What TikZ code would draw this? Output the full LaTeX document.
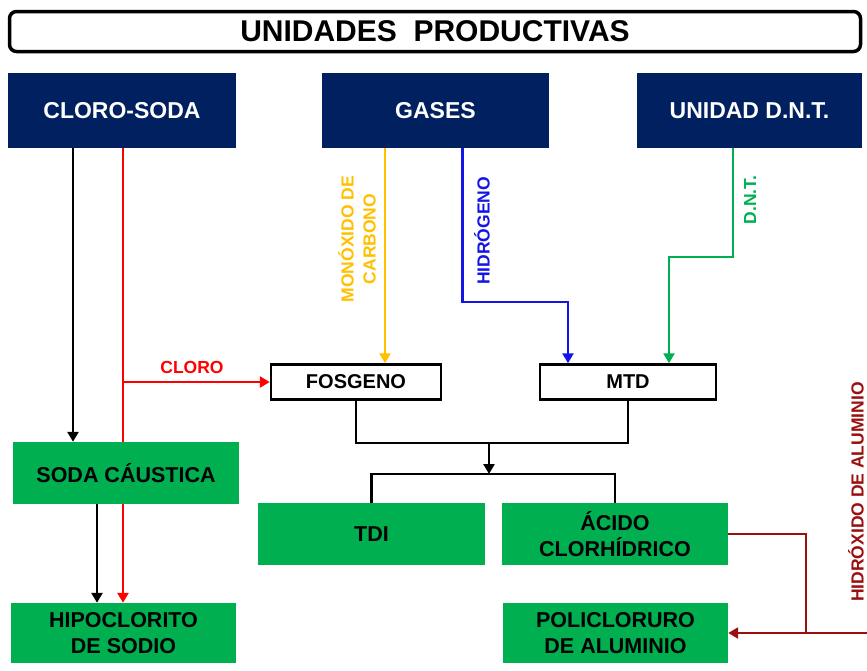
\documentclass[tikz,border=0pt]{standalone}
\usepackage{fontspec}
\setmainfont{Liberation Sans}
\usetikzlibrary{arrows.meta,backgrounds}
\definecolor{navy}{HTML}{002060}
\definecolor{pgreen}{HTML}{00B050}
\definecolor{pred}{HTML}{FF0000}
\definecolor{pyellow}{HTML}{FFC000}
\definecolor{pblue}{HTML}{1414E6}
\definecolor{pdred}{HTML}{9A0F0F}
\begin{document}
\begin{tikzpicture}[x=1pt,y=-1pt,
  titlebox/.style={draw=black,line width=3.5pt,rounded corners=7pt,fill=white,minimum width=851pt,minimum height=40pt,inner sep=0pt,font=\fontsize{30}{34}\selectfont\bfseries},
  unitbox/.style={fill=navy,text=white,font=\fontsize{23}{27}\selectfont\bfseries,minimum height=75pt,inner sep=0pt},
  prodbox/.style={fill=pgreen,text=black,font=\fontsize{21.5}{26}\selectfont\bfseries,align=center,inner sep=0pt},
  midbox/.style={draw=black,line width=2.5pt,fill=white,font=\fontsize{20}{24}\selectfont\bfseries,minimum height=35pt,inner sep=0pt},
  flow/.style={line width=2.5pt},
  tip/.style={-{Triangle[width=11pt,length=10pt]}},
  lbl/.style={font=\fontsize{17.5}{22}\selectfont\bfseries,align=center,inner sep=0pt}
]
\useasboundingbox (0,0) rectangle (867,670);
\node[titlebox] (title) at (435,31.5) {UNIDADES\ \ PRODUCTIVAS};
\node[unitbox,minimum width=228pt] (cs) at (122,110.5) {CLORO-SODA};
\node[unitbox,minimum width=227pt] (gases) at (435.5,110.5) {GASES};
\node[unitbox,minimum width=225pt] (dnt) at (749.5,110.5) {UNIDAD D.N.T.};
\node[midbox,minimum width=170pt] (fosgeno) at (356,382) {FOSGENO};
\node[midbox,minimum width=176pt] (mtd) at (628,382) {MTD};
\node[prodbox,minimum width=226pt,minimum height=62pt] (soda) at (126,473) {SODA CÁUSTICA};
\node[prodbox,minimum width=225pt,minimum height=60pt] (hipo) at (123.5,633) {HIPOCLORITO\\DE SODIO};
\node[prodbox,minimum width=227pt,minimum height=62pt] (tdi) at (371.5,534) {TDI};
\node[prodbox,minimum width=226pt,minimum height=62pt] (acido) at (615,534) {ÁCIDO\\CLORHÍDRICO};
\node[prodbox,minimum width=225pt,minimum height=60pt] (poli) at (615.5,633) {POLICLORURO\\DE ALUMINIO};
\coordinate (join) at (489,442);
\coordinate (split) at (489,474);
\coordinate (dred) at (806,633);
\coordinate (redin) at (867,633);
\begin{scope}[on background layer]
\draw[flow,tip] ([xshift=-49pt]cs.south) -- ([xshift=-53pt]soda.north);
\draw[flow,pred,tip] ([xshift=1pt]cs.south) |- (fosgeno.west);
\draw[flow,pred,tip] ([xshift=1pt]cs.south) -- ([xshift=-0.5pt]hipo.north);
\draw[flow,tip] ([xshift=-29pt]soda.south) -- ([xshift=-26.5pt]hipo.north);
\draw[flow,pyellow,tip] ([xshift=-50.5pt]gases.south) -- ([xshift=29pt]fosgeno.north);
\draw[flow,pblue,tip] ([xshift=27pt]gases.south) -- ++(0,154) -| ([xshift=-60pt]mtd.north);
\draw[flow,pgreen,tip] ([xshift=-16.5pt]dnt.south) -- ++(0,109) -| ([xshift=41pt]mtd.north);
\draw[flow] (fosgeno.south) -- ++(0,42) -| (mtd.south);
\draw[flow,tip] (join) -- (split);
\draw[flow] (tdi.north) |- (split) -| (acido.north);
\draw[flow,pdred] (acido.east) -| (dred);
\draw[flow,pdred,tip] (redin) -- (poli.east);
\end{scope}
\node[lbl,text=pred] (lcloro) at (192,367) {CLORO};
\node[lbl,text=pyellow,rotate=90] (lmono) at (357,239) {MONÓXIDO DE\\CARBONO};
\node[lbl,text=pblue,rotate=90] (lhidro) at (482,231) {HIDRÓGENO};
\node[lbl,text=pgreen,rotate=90] (ldnt) at (750,200) {D.N.T.};
\node[lbl,text=pdred,rotate=90] (lalu) at (856,492) {HIDRÓXIDO DE ALUMINIO};
\end{tikzpicture}
\end{document}
